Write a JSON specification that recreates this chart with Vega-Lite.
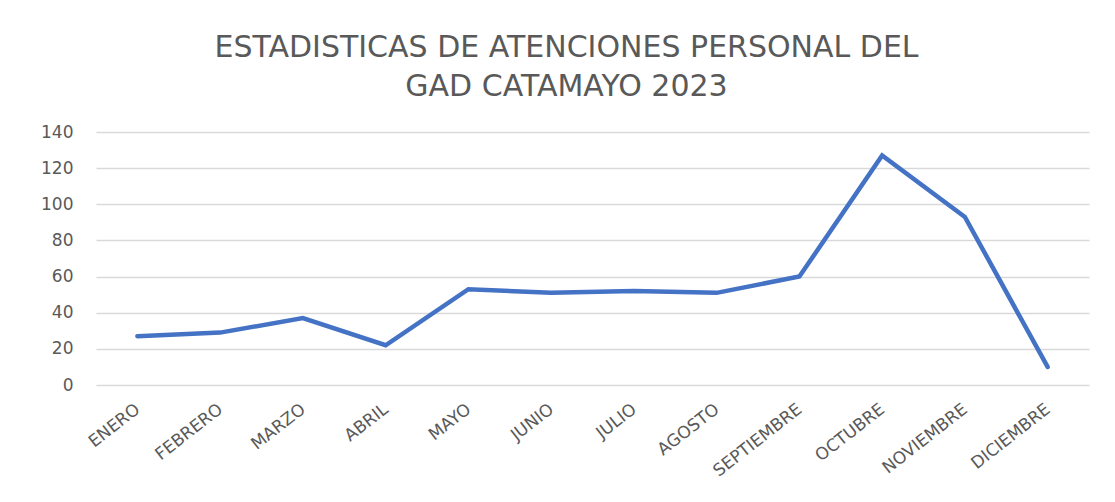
{
  "$schema": "https://vega.github.io/schema/vega-lite/v6.json",
  "autosize": {"type": "none"},
  "padding": {"left": 96, "top": 132, "right": 26, "bottom": 117},
  "width": 993,
  "height": 253,
  "background": "white",
  "title": {
    "text": ["ESTADISTICAS DE ATENCIONES PERSONAL DEL", "GAD CATAMAYO 2023"],
    "font": "DejaVu Sans",
    "fontSize": 30,
    "fontWeight": "normal",
    "color": "#595959",
    "anchor": "middle",
    "dx": -26,
    "offset": 21,
    "lineHeight": 39
  },
  "data": {
    "values": [
      {"mes": "ENERO", "valor": 27},
      {"mes": "FEBRERO", "valor": 29},
      {"mes": "MARZO", "valor": 37},
      {"mes": "ABRIL", "valor": 22},
      {"mes": "MAYO", "valor": 53},
      {"mes": "JUNIO", "valor": 51},
      {"mes": "JULIO", "valor": 52},
      {"mes": "AGOSTO", "valor": 51},
      {"mes": "SEPTIEMBRE", "valor": 60},
      {"mes": "OCTUBRE", "valor": 127},
      {"mes": "NOVIEMBRE", "valor": 93},
      {"mes": "DICIEMBRE", "valor": 10}
    ]
  },
  "mark": {"type": "line", "color": "#4472C4", "strokeWidth": 4.5, "strokeCap": "round", "strokeJoin": "miter"},
  "encoding": {
    "x": {
      "field": "mes",
      "type": "nominal",
      "sort": null,
      "scale": {"type": "point", "padding": 0.5},
      "axis": {
        "title": null,
        "labelAngle": -38,
        "labelAlign": "right",
        "labelBaseline": "middle",
        "labelPadding": 22,
        "labelFont": "DejaVu Sans",
        "labelFontSize": 17,
        "labelColor": "#595959",
        "ticks": false,
        "domain": false,
        "grid": false
      }
    },
    "y": {
      "field": "valor",
      "type": "quantitative",
      "scale": {"domain": [0, 140]},
      "axis": {
        "title": null,
        "values": [0, 20, 40, 60, 80, 100, 120, 140],
        "labelFont": "DejaVu Sans",
        "labelFontSize": 17,
        "labelColor": "#595959",
        "labelPadding": 23,
        "ticks": false,
        "domain": false,
        "grid": true,
        "gridColor": "#d9d9d9",
        "gridWidth": 1.5
      }
    }
  },
  "config": {"view": {"stroke": null}}
}
